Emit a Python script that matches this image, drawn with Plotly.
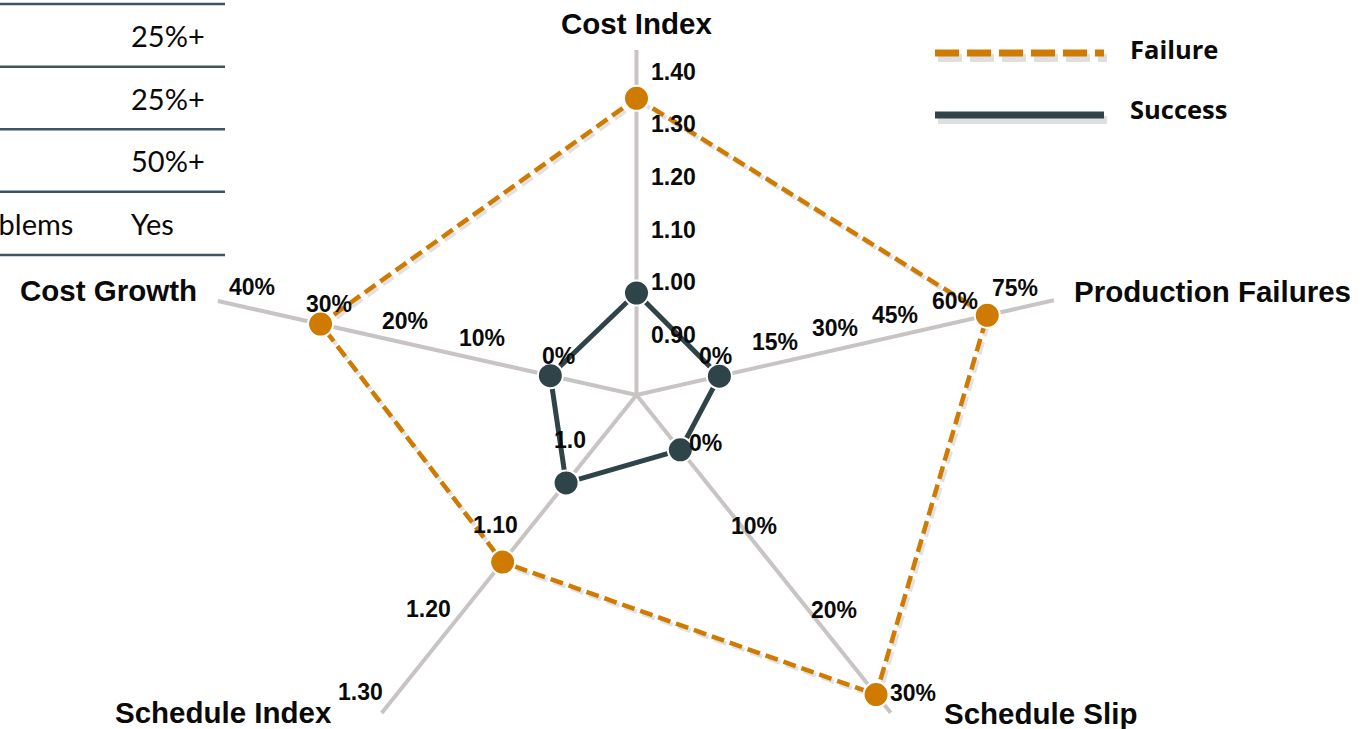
import math
import plotly.graph_objects as go

# ---------------- data ----------------
axis_names = ["Cost Index", "Production Failures", "Schedule Slip", "Schedule Index", "Cost Growth"]

failure_values = [1.37, 67, 30, 1.10, 30]
success_values = [1.00, 0, 0, 1.00, 0]

ci_ticks = [0.90, 1.00, 1.10, 1.20, 1.30, 1.40]
ci_tick_text = ["0.90", "1.00", "1.10", "1.20", "1.30", "1.40"]
pf_ticks = [0, 15, 30, 45, 60, 75]
pf_tick_text = ["0%", "15%", "30%", "45%", "60%", "75%"]
ss_ticks = [0, 10, 20, 30]
ss_tick_text = ["0%", "10%", "20%", "30%"]
si_ticks = [1.0, 1.1, 1.2, 1.3]
si_tick_text = ["1.0", "1.10", "1.20", "1.30"]
cg_ticks = [0, 10, 20, 30, 40]
cg_tick_text = ["0%", "10%", "20%", "30%", "40%"]

table_values = ["25%+", "25%+", "50%+", "Yes"]
table_last_label = "Problems"

# ---------------- styling / geometry ----------------
ORANGE = "#CF7A00"
SLATE = "#2E4449"
AXIS_GREY = "#C8C4C4"
TEXT = "#0A0A0A"
TITLE_FONT = "Liberation Sans, Arial, sans-serif"

W, H = 1360, 729
CX, CY = 636.5, 395.0

# each spoke: direction (deg, counter-clockwise from east), length (px),
# linear scale given by two (value, radius px) anchors, tick label nudges
spokes = {
    "Cost Index": dict(angle=90.0, length=345, scale=((1.00, 102.0), (1.40, 312.5)),
                       ticks=ci_ticks, text=ci_tick_text,
                       nudge=[(37, -10.8)] * 6,
                       title=(636.7, 23)),
    "Production Failures": dict(angle=12.8, length=428, scale=((0, 85.0), (75, 392.5)),
                                ticks=pf_ticks, text=pf_tick_text,
                                nudge=[(-4, -20.5)] * 6,
                                title=(1212, 291)),
    "Schedule Slip": dict(angle=-51.35, length=407, scale=((0, 70.2), (30, 383.6)),
                          ticks=ss_ticks, text=ss_tick_text,
                          nudge=[(25, -7), (8.5, -5.5), (23, -3), (37, -2)],
                          title=(1040, 713)),
    "Schedule Index": dict(angle=-128.7, length=407.5, scale=((1.0, 112.6), (1.1, 214.1)),
                           ticks=si_ticks, text=si_tick_text,
                           nudge=[(4, -43), (-7.6, -37), (-11, -32), (-15.6, -28.7)],
                           title=(223, 712)),
    "Cost Growth": dict(angle=167.35, length=429, scale=((0, 88.3), (40, 402.3)),
                        ticks=cg_ticks, text=cg_tick_text,
                        nudge=[(8, -20)] * 5,
                        title=(108.5, 290)),
}


def radius(name, value):
    (v0, r0), (v1, r1) = spokes[name]["scale"]
    return r0 + (value - v0) * (r1 - r0) / (v1 - v0)


def point(name, r):
    a = math.radians(spokes[name]["angle"])
    return CX + r * math.cos(a), CY - r * math.sin(a)


def polygon(values, dx=0.0, dy=0.0):
    xs, ys = [], []
    for name, v in zip(axis_names, values):
        x, y = point(name, radius(name, v))
        xs.append(x + dx)
        ys.append(y + dy)
    return xs + xs[:1], ys + ys[:1]


fig = go.Figure()

# spokes
for name in axis_names:
    ex, ey = point(name, spokes[name]["length"])
    fig.add_trace(go.Scatter(x=[CX, ex], y=[CY, ey], mode="lines",
                             line=dict(color=AXIS_GREY, width=4),
                             hoverinfo="skip"))

# failure outline with soft shadow
fx, fy = polygon(failure_values, 2.5, 3.0)
fig.add_trace(go.Scatter(x=fx, y=fy, mode="lines",
                         line=dict(color="rgba(170,170,170,0.35)", width=4.5, dash="13px,6px"),
                         hoverinfo="skip"))
fx, fy = polygon(failure_values)
fig.add_trace(go.Scatter(x=fx, y=fy, mode="lines", name="Failure",
                         line=dict(color=ORANGE, width=4.5, dash="13px,6px")))

# success outline
sx, sy = polygon(success_values)
fig.add_trace(go.Scatter(x=sx, y=sy, mode="lines", name="Success",
                         line=dict(color=SLATE, width=5)))

# markers
fig.add_trace(go.Scatter(x=fx[:-1], y=fy[:-1], mode="markers",
                         marker=dict(size=25, color=ORANGE, line=dict(color="white", width=2))))
fig.add_trace(go.Scatter(x=sx[:-1], y=sy[:-1], mode="markers",
                         marker=dict(size=25, color=SLATE, line=dict(color="white", width=2))))

annotations = []

# tick labels and spoke titles
for name in axis_names:
    s = spokes[name]
    for val, txt, (ndx, ndy) in zip(s["ticks"], s["text"], s["nudge"]):
        x, y = point(name, radius(name, val))
        annotations.append(dict(x=x + ndx, y=y + ndy, text=txt, showarrow=False,
                                xanchor="center", yanchor="middle",
                                font=dict(family=TITLE_FONT, size=23, color=TEXT, weight="bold")))
    tx, ty = s["title"]
    annotations.append(dict(x=tx, y=ty, text=name, showarrow=False,
                            xanchor="center", yanchor="middle",
                            font=dict(family=TITLE_FONT, size=29.5, color=TEXT, weight="bold")))

# legend
shapes = []
legend_rows = [("Failure", ORANGE, "24px,8px", 53, 49), ("Success", SLATE, "solid", 115, 109)]
for label, color, dash, ly, ty in legend_rows:
    shapes.append(dict(type="line", x0=938, x1=1107, y0=ly + 5, y1=ly + 5,
                       line=dict(color="rgba(150,150,150,0.3)", width=8, dash=dash)))
    shapes.append(dict(type="line", x0=935, x1=1104, y0=ly, y1=ly,
                       line=dict(color=color, width=7, dash=dash)))
    annotations.append(dict(x=1128, y=ty, text=label, showarrow=False,
                            xanchor="left", yanchor="middle",
                            font=dict(family="Open Sans, sans-serif", size=25.5, color=TEXT, weight="bold")))

# partial table on the left
row_lines = [4, 66.7, 129.3, 191.7, 255]
for yl in row_lines:
    shapes.append(dict(type="line", x0=0, x1=225, y0=yl, y1=yl,
                       line=dict(color="#3E5466", width=2.5)))
for i, val in enumerate(table_values):
    ym = (row_lines[i] + row_lines[i + 1]) / 2
    annotations.append(dict(x=129, y=ym, text=val, showarrow=False,
                            xanchor="left", yanchor="middle",
                            font=dict(family="Lato, sans-serif", size=29, color=TEXT)))
annotations.append(dict(x=75, y=(row_lines[3] + row_lines[4]) / 2, text=table_last_label,
                        showarrow=False, xanchor="right", yanchor="middle",
                        font=dict(family="Lato, sans-serif", size=29, color=TEXT)))

fig.update_layout(
    width=W, height=H,
    margin=dict(l=0, r=0, t=0, b=0),
    paper_bgcolor="white", plot_bgcolor="white",
    showlegend=False,
    xaxis=dict(range=[0, W], visible=False, fixedrange=True),
    yaxis=dict(range=[H, 0], visible=False, fixedrange=True),
    annotations=annotations,
    shapes=shapes,
)

fig.write_html("out.html", config={"displayModeBar": False})
